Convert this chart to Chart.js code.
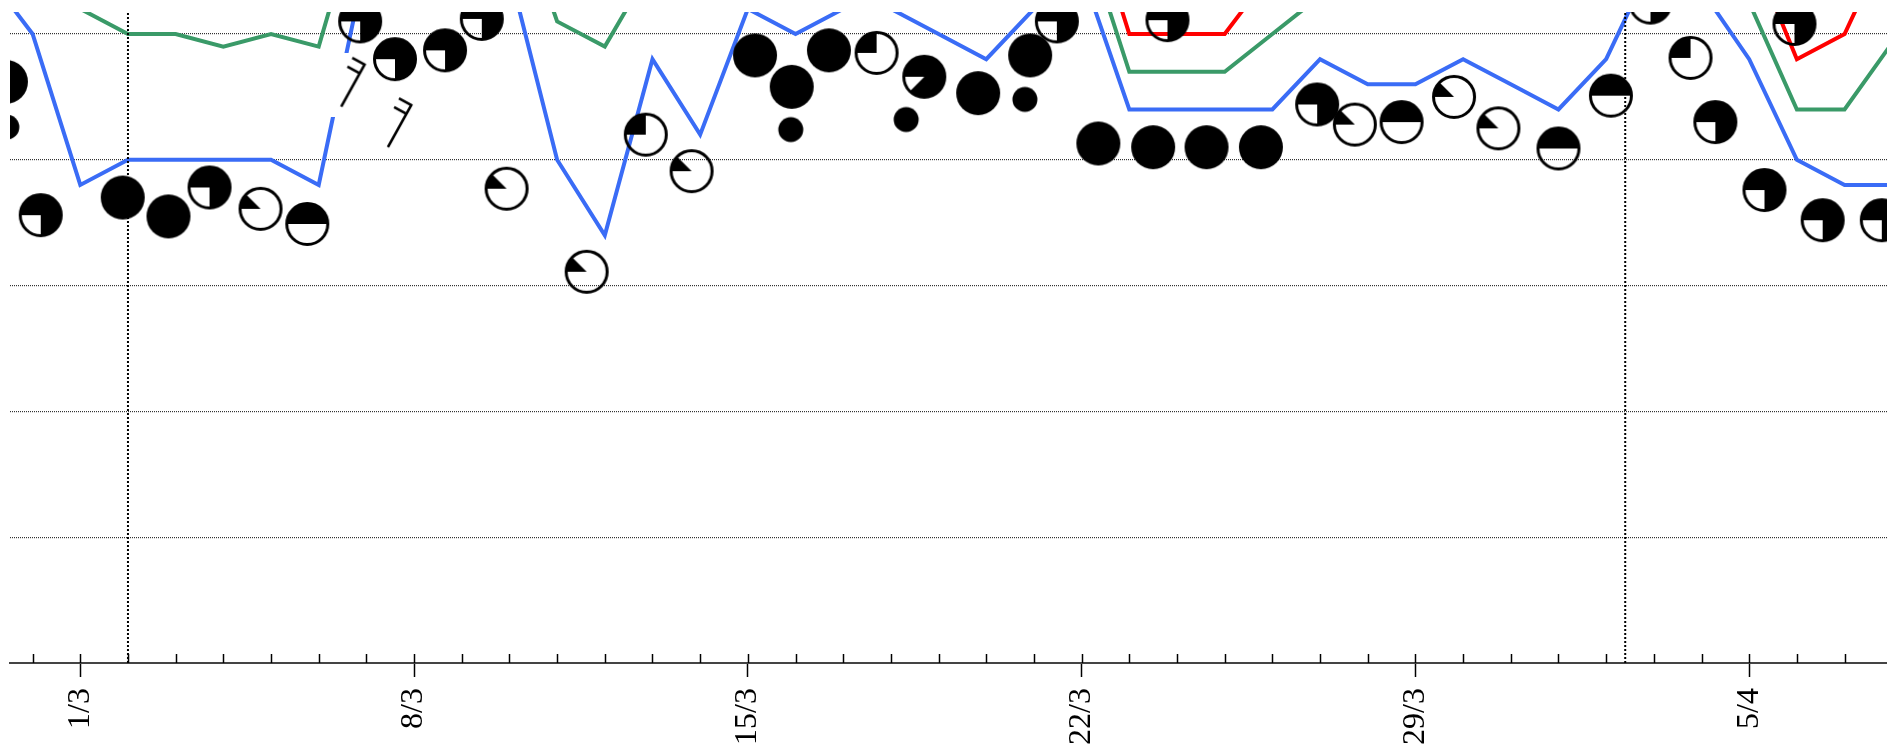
<!DOCTYPE html>
<html>
<head>
<meta charset="utf-8">
<script src="https://cdn.jsdelivr.net/npm/chart.js@4.4.1/dist/chart.umd.min.js"></script>
<style>
html,body{margin:0;padding:0;background:#fff;}
#wrap{width:1887px;height:747px;position:relative;}
</style>
</head>
<body>
<div id="wrap"><canvas id="c"></canvas></div>
<script>
// ---- data (x = days after 1/3) ----
const days = [-2,-1,0,1,2,3,4,5,6,7,8,9,10,11,12,13,14,15,16,17,18,19,20,21,22,23,24,25,26,27,28,29,30,31,32,33,34,35,36,37,38];
const blueSeries  = [55,50,38,40,40,40,40,38,56,null,null,55,40,34,48,42,52,50,52,52,50,48,52,55,44,44,44,44,48,46,46,48,46,44,48,56,53.5,48,40,38,38];
const greenSeries = [null,null,52,50,50,49,50,49,62,null,null,62,51,49,55.5,null,null,null,null,null,null,null,null,58.7,47,47,47,50,53,null,null,null,null,null,null,null,null,52.5,44,44,49.3];
const redSeries   = [null,null,null,null,null,null,null,null,null,null,null,null,null,null,null,null,null,null,null,null,null,null,null,62,50,50,50,55,null,null,null,null,null,null,null,null,null,57.2,48,50,58.1];

const cloudX     = [-1.56,-0.83,0.89,1.85,2.71,3.78,4.76,5.87,6.60,7.65,8.42,8.94,10.62,11.86,12.82,14.15,14.92,15.70,16.70,17.70,18.83,19.92,20.48,21.35,22.50,22.80,23.62,24.76,25.94,26.73,27.71,28.81,29.74,31.0,32.10,32.93,33.77,34.29,35.32,35.95,36.54,37.78];
const cloudY     = [46.2,35.6,37.0,35.5,37.8,36.1,34.9,51.0,48.0,48.7,51.2,37.7,31.1,42.0,39.1,48.3,45.8,48.7,48.5,46.6,45.3,48.3,51.0,41.3,41.0,51.1,41.0,41.0,44.4,42.8,43.0,45.0,42.5,40.9,45.1,52.5,48.1,43.0,37.6,50.8,35.2,35.2];
const cloudOktas = [8,6,8,8,6,1,4,6,6,6,6,1,1,2,1,8,8,8,2,7,8,8,6,8,8,6,8,8,6,1,4,1,1,4,4,6,2,6,6,6,6,6];

const dotX = [-1.54,14.90,17.32,19.81];
const dotY = [42.6,42.4,43.2,44.8];

const windX = [5.726,6.705];
const windY = [45.97,42.75];
const windDir = [29,29];
const windSpeed = [20,20];

const markerDays = [1,32.4];

const tickDays = [0,7,14,21,28,35];
const tickLabels = ['1/3','8/3','15/3','22/3','29/3','5/4'];

const Y_MIN = 0, Y_MAX = 51.75, Y_STEP = 10;
const X_MIN = -1.474, X_MAX = 37.89;
const LABEL_FONT = "'Liberation Serif', 'Times New Roman', Times, serif";

// ---- symbol builders ----
function cloudIcon(okta){
  const R = 20.5, S = 48, c = S/2, d = Math.PI/180;
  const cv = document.createElement('canvas'); cv.width = S; cv.height = S;
  const g = cv.getContext('2d');
  g.fillStyle = '#000'; g.strokeStyle = '#000'; g.lineWidth = 3;
  if (okta >= 8){ g.beginPath(); g.arc(c,c,R+1.5,0,2*Math.PI); g.fill(); return cv; }
  const spans = {7:[180,495],6:[180,450],4:[180,360],2:[180,270],1:[180,225]};
  const sp = spans[okta];
  g.beginPath(); g.moveTo(c,c); g.arc(c,c,R,sp[0]*d,sp[1]*d); g.closePath(); g.fill();
  g.beginPath(); g.arc(c,c,R,0,2*Math.PI); g.stroke();
  return cv;
}
function dotIcon(){
  const S = 28, c = S/2;
  const cv = document.createElement('canvas'); cv.width = S; cv.height = S;
  const g = cv.getContext('2d');
  g.fillStyle = '#000'; g.beginPath(); g.arc(c,c,12.5,0,2*Math.PI); g.fill();
  return cv;
}
function barbIcon(dir, speed){
  const S = 64, c = S/2;
  const cv = document.createElement('canvas'); cv.width = S; cv.height = S;
  const g = cv.getContext('2d');
  g.fillStyle = '#fff'; g.fillRect(0,0,S,S);
  g.translate(c,c); g.rotate(dir*Math.PI/180);
  g.strokeStyle = '#000'; g.lineWidth = 2.6; g.lineCap = 'butt';
  g.beginPath(); g.moveTo(0,25); g.lineTo(0,-24);
  const n = Math.round(speed/10);
  for (let i=0;i<n;i++){ const y = -23 + i*10; g.moveTo(1.2,y); g.lineTo(-14,y); }
  g.stroke();
  return cv;
}

const toXY = (xs, ys) => xs.map((x,i)=>({x:x, y:ys[i]}));

// upward day ticks on the x axis
const upTicks = {
  id:'upTicks',
  afterDraw(chart){
    const xs = chart.scales.x, ctx = chart.ctx, b = chart.chartArea.bottom;
    ctx.save(); ctx.strokeStyle = '#000'; ctx.lineWidth = 1.5;
    for (let d = Math.ceil(xs.min); d <= Math.floor(xs.max); d++){
      const px = Math.round(xs.getPixelForValue(d)) + 0.5;
      ctx.beginPath(); ctx.moveTo(px,b); ctx.lineTo(px,b-9); ctx.stroke();
    }
    ctx.restore();
  }
};

function draw(){
  const cloudIcons = cloudOktas.map(cloudIcon);
  const dotImg = dotIcon();
  const barbIcons = windDir.map((d,i)=>barbIcon(d, windSpeed[i]));

  const lineDs = (data, color, order) => ({
    type:'line', data: toXY(days, data), borderColor: color, borderWidth: 4,
    pointRadius: 0, tension: 0, spanGaps: false, fill: false, order: order,
    borderJoinStyle: 'miter'
  });
  const markerSets = markerDays.map(d => ({
    type:'line', data:[{x:d,y:Y_MIN},{x:d,y:Y_MAX}], borderColor:'#000', borderWidth:2,
    borderDash:[2,2], pointRadius:0, fill:false, order:2
  }));

  new Chart(document.getElementById('c'), {
    type:'line',
    data:{
      datasets:[
        { type:'line', data: toXY(cloudX, cloudY), showLine:false, order:0,
          pointStyle: ctx => cloudIcons[ctx.dataIndex], pointRadius:22, pointBorderWidth:0 },
        { type:'line', data: toXY(dotX, dotY), showLine:false, order:0,
          pointStyle: dotImg, pointRadius:14, pointBorderWidth:0 },
        { type:'line', data: toXY(windX, windY), showLine:false, order:1,
          pointStyle: ctx => barbIcons[ctx.dataIndex], pointRadius:32, pointBorderWidth:0 },
        ...markerSets,
        lineDs(blueSeries,'#3a6cf6',3),
        lineDs(greenSeries,'#3a9a68',4),
        lineDs(redSeries,'#ff0000',5)
      ]
    },
    options:{
      responsive:true, maintainAspectRatio:false, animation:false, devicePixelRatio:1,
      events:[],
      layout:{autoPadding:false, padding:{left:10,top:12,right:0,bottom:0}},
      plugins:{legend:{display:false}, tooltip:{enabled:false}, title:{display:false}},
      scales:{
        x:{
          type:'linear', min:X_MIN, max:X_MAX,
          afterFit: s => { s.height = 84; s.paddingLeft = 0; s.paddingRight = 0; },
          border:{display:true, color:'#444', width:2},
          grid:{display:true, drawOnChartArea:false, drawTicks:true, tickLength:14, tickWidth:1.5,
            tickColor: c => (c.tick && tickDays.includes(c.tick.value)) ? '#000' : 'rgba(0,0,0,0)'},
          ticks:{
            stepSize:1, autoSkip:false, includeBounds:false, maxRotation:90, minRotation:90, padding:11,
            color:'#000', font:{family:LABEL_FONT, size:32},
            callback: v => { const i = tickDays.indexOf(v); return i >= 0 ? tickLabels[i] : ''; }
          }
        },
        y:{
          type:'linear', min:Y_MIN, max:Y_MAX,
          border:{display:false, dash:[1,1]},
          grid:{display:true, drawTicks:false, color:'#333', lineWidth:1.2},
          ticks:{display:false, stepSize:Y_STEP, includeBounds:false}
        }
      }
    },
    plugins:[upTicks]
  });
}

let drawn = false;
const go = () => { if (!drawn) { drawn = true; draw(); } };
if (document.fonts && document.fonts.load) {
  document.fonts.load("32px 'Liberation Serif'").then(go, go);
  setTimeout(go, 1500);
} else { go(); }
</script>
</body>
</html>
